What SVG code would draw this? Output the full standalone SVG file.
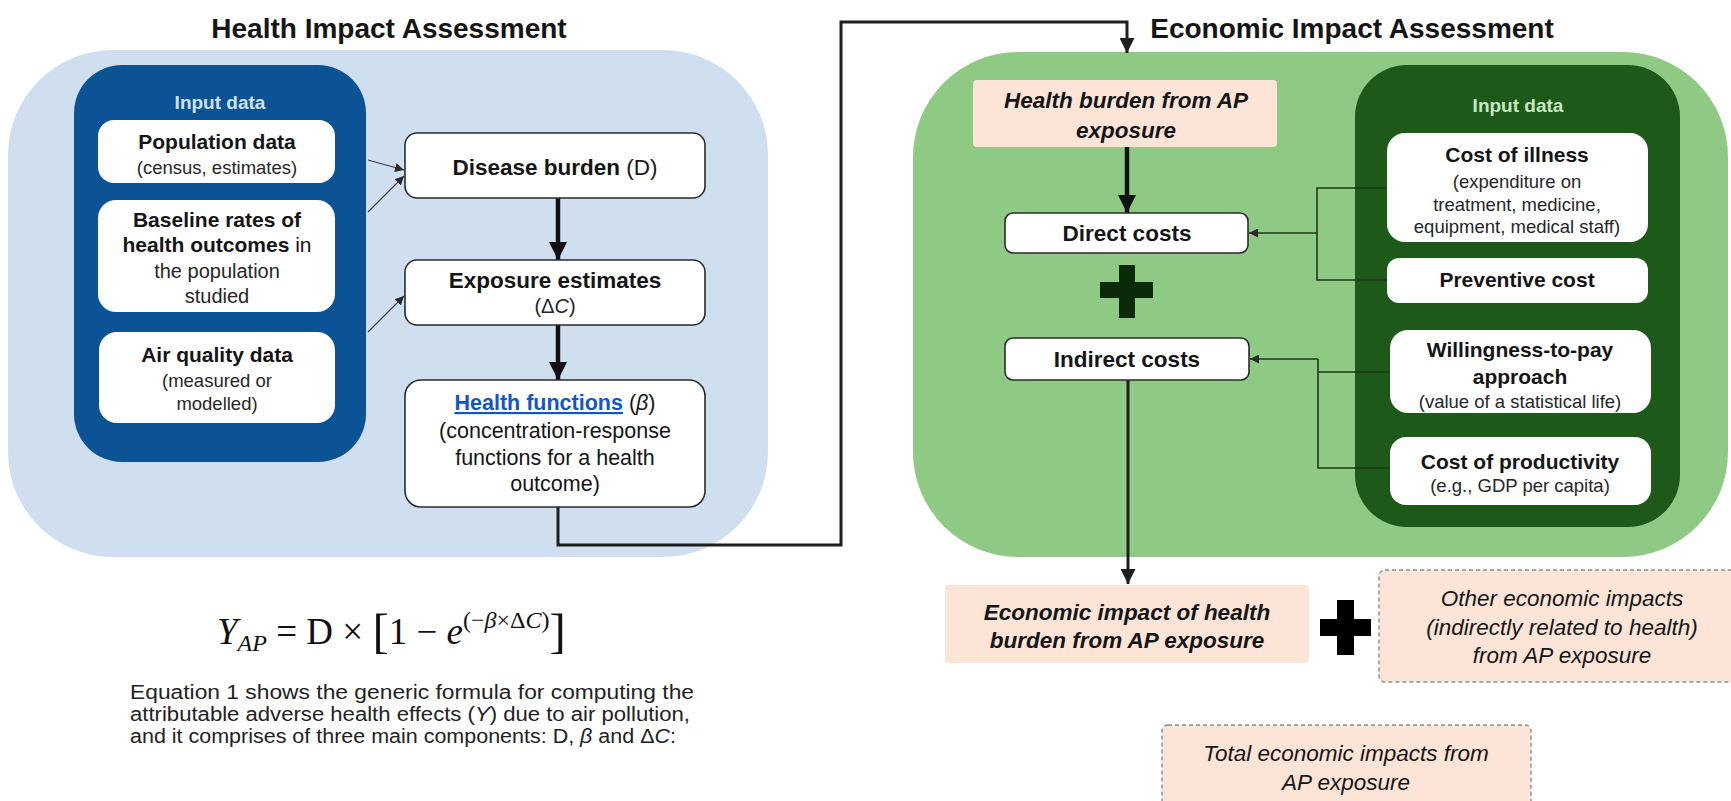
<svg xmlns="http://www.w3.org/2000/svg" width="1731" height="801" viewBox="0 0 1731 801">
<style>
.t{font-family:"Liberation Sans",Arial,sans-serif;text-anchor:middle;fill:#151515}
.b{font-weight:bold}
.s{fill:#262626}
.bi{font-weight:bold;font-style:italic}
.it{font-style:italic}
.box{fill:#ffffff;stroke:#2b2b2b;stroke-width:1.6}
.inbox{fill:#ffffff}
.pink{fill:#fce4d7}
.dash{fill:#fce4d7;stroke:#8c8c8c;stroke-width:1.4;stroke-dasharray:4 3}
.thick{stroke:#111;stroke-width:4.5;fill:none}
.link{stroke:#1e1e1e;stroke-width:3;fill:none}
.thin{stroke:#3a3a3a;stroke-width:1.1;fill:none}
.br{stroke:#1c3a14;stroke-width:1.6;fill:none}
</style>
<defs>
<marker id="ahBig" viewBox="0 0 10 10" refX="10" refY="5" markerUnits="userSpaceOnUse" markerWidth="18" markerHeight="20" orient="auto"><path d="M0,0 L10,5 L0,10 z" fill="#111"/></marker>
<marker id="ahMed" viewBox="0 0 10 10" refX="10" refY="5" markerUnits="userSpaceOnUse" markerWidth="15" markerHeight="15" orient="auto"><path d="M0,0 L10,5 L0,10 z" fill="#1e1e1e"/></marker>
<marker id="ahSm" viewBox="0 0 10 10" refX="10" refY="5" markerUnits="userSpaceOnUse" markerWidth="9" markerHeight="9" orient="auto"><path d="M0,0 L10,5 L0,10 z" fill="#2a2a2a"/></marker>
</defs>

<rect width="1731" height="801" fill="#ffffff"/>

<!-- Panels -->
<g id="health-panel">
<rect x="8" y="50" width="760" height="507" rx="105" fill="#cfdff0"/>
<text class="t b" x="389" y="38" font-size="28">Health Impact Assessment</text>
</g>
<g id="economic-panel">
<rect x="913" y="52" width="815" height="505" rx="105" fill="#8fca84"/>
<text class="t b" x="1352" y="38" font-size="28">Economic Impact Assessment</text>
</g>

<g id="health-input">
<rect x="74" y="65" width="292" height="397" rx="48" fill="#0b5394"/>
<text class="t b" x="220" y="109" font-size="19" style="fill:#cfe2f3">Input data</text>
</g>
<g id="economic-input">
<rect x="1355" y="65" width="325" height="462" rx="52" fill="#1d5918"/>
<text class="t b" x="1518" y="112" font-size="19" style="fill:#c9e6c2">Input data</text>
</g>

<!-- Connectors -->
<g id="connectors">
<line class="thin" x1="368" y1="160" x2="404" y2="170" marker-end="url(#ahSm)"/>
<line class="thin" x1="368" y1="212" x2="404" y2="176" marker-end="url(#ahSm)"/>
<line class="thin" x1="368" y1="332" x2="404" y2="296" marker-end="url(#ahSm)"/>
<line class="thick" x1="558" y1="198" x2="558" y2="260" marker-end="url(#ahBig)"/>
<line class="thick" x1="558" y1="325" x2="558" y2="380" marker-end="url(#ahBig)"/>
<polyline class="link" points="558,507 558,545 841,545 841,22 1127,22 1127,53" marker-end="url(#ahMed)"/>
<line class="thick" x1="1127" y1="147" x2="1127" y2="213" marker-end="url(#ahBig)"/>
<line class="link" x1="1128" y1="380" x2="1128" y2="584" marker-end="url(#ahMed)"/>
<polyline class="br" points="1387,188 1317,188 1317,280 1387,280"/>
<line class="br" x1="1317" y1="233" x2="1249" y2="233" marker-end="url(#ahSm)"/>
<polyline class="br" points="1318,359 1318,468 1390,468"/>
<line class="br" x1="1318" y1="372" x2="1390" y2="372"/>
<line class="br" x1="1318" y1="359" x2="1250" y2="359" marker-end="url(#ahSm)"/>
</g>

<!-- Health input boxes -->
<g id="population-data">
<rect class="inbox" x="98" y="120" width="237" height="63" rx="16"/>
<text class="t b" x="217" y="149" font-size="21">Population data</text>
<text class="t s" x="217" y="174" font-size="18.5">(census, estimates)</text>
</g>
<g id="baseline-rates">
<rect class="inbox" x="98" y="200" width="237" height="112" rx="18"/>
<text class="t b" x="217" y="227" font-size="21">Baseline rates of</text>
<text class="t" x="217" y="252" font-size="21"><tspan font-weight="bold">health outcomes</tspan> in</text>
<text class="t s" x="217" y="278" font-size="20">the population</text>
<text class="t s" x="217" y="303" font-size="20">studied</text>
</g>
<g id="air-quality">
<rect class="inbox" x="99" y="332" width="236" height="91" rx="18"/>
<text class="t b" x="217" y="362" font-size="21">Air quality data</text>
<text class="t s" x="217" y="387" font-size="18.5">(measured or</text>
<text class="t s" x="217" y="410" font-size="18.5">modelled)</text>
</g>

<!-- Health column -->
<g id="disease-burden">
<rect class="box" x="405" y="133" width="300" height="65" rx="12"/>
<text class="t" x="555" y="175" font-size="22.5"><tspan font-weight="bold">Disease burden</tspan> (D)</text>
</g>
<g id="exposure-estimates">
<rect class="box" x="405" y="260" width="300" height="65" rx="12"/>
<text class="t b" x="555" y="288" font-size="22.5">Exposure estimates</text>
<text class="t s" x="555" y="313" font-size="20">(Δ<tspan font-style="italic">C</tspan>)</text>
</g>
<g id="health-functions">
<rect class="box" x="405" y="380" width="300" height="127" rx="16"/>
<text class="t" x="555" y="410" font-size="21.5"><tspan style="fill:#1155cc" font-weight="bold" text-decoration="underline">Health functions</tspan> (<tspan font-style="italic">β</tspan>)</text>
<text class="t" x="555" y="438" font-size="21.5">(concentration-response</text>
<text class="t" x="555" y="465" font-size="21.5">functions for a health</text>
<text class="t" x="555" y="491" font-size="21.5">outcome)</text>
</g>

<!-- Economic column -->
<g id="health-burden">
<rect class="pink" x="973" y="80" width="304" height="67" rx="4"/>
<text class="t bi" x="1126" y="108" font-size="22.5">Health burden from AP</text>
<text class="t bi" x="1126" y="138" font-size="22.5">exposure</text>
</g>
<g id="direct-costs">
<rect class="box" x="1005" y="213" width="243" height="40" rx="8"/>
<text class="t b" x="1127" y="241" font-size="22.5">Direct costs</text>
</g>
<g id="plus-1">
<rect x="1119" y="265" width="16" height="53" fill="#0c2a09"/>
<rect x="1100" y="282" width="53" height="16" fill="#0c2a09"/>
</g>
<g id="indirect-costs">
<rect class="box" x="1005" y="338" width="244" height="42" rx="8"/>
<text class="t b" x="1127" y="367" font-size="22.5">Indirect costs</text>
</g>

<!-- Economic input boxes -->
<g id="cost-of-illness">
<rect class="inbox" x="1387" y="133" width="261" height="109" rx="18"/>
<text class="t b" x="1517" y="162" font-size="21">Cost of illness</text>
<text class="t s" x="1517" y="188" font-size="18.5">(expenditure on</text>
<text class="t s" x="1517" y="211" font-size="18.5">treatment, medicine,</text>
<text class="t s" x="1517" y="233" font-size="18.5">equipment, medical staff)</text>
</g>
<g id="preventive-cost">
<rect class="inbox" x="1387" y="258" width="261" height="45" rx="12"/>
<text class="t b" x="1517" y="287" font-size="21">Preventive cost</text>
</g>
<g id="willingness-to-pay">
<rect class="inbox" x="1390" y="330" width="261" height="83" rx="18"/>
<text class="t b" x="1520" y="357" font-size="21">Willingness-to-pay</text>
<text class="t b" x="1520" y="384" font-size="21">approach</text>
<text class="t s" x="1520" y="408" font-size="18.5">(value of a statistical life)</text>
</g>
<g id="cost-of-productivity">
<rect class="inbox" x="1390" y="437" width="261" height="68" rx="16"/>
<text class="t b" x="1520" y="469" font-size="21">Cost of productivity</text>
<text class="t s" x="1520" y="492" font-size="18.5">(e.g., GDP per capita)</text>
</g>

<!-- Outputs -->
<g id="economic-impact">
<rect class="pink" x="945" y="585" width="364" height="78" rx="4"/>
<text class="t bi" x="1127" y="620" font-size="22.5">Economic impact of health</text>
<text class="t bi" x="1127" y="648" font-size="22.5">burden from AP exposure</text>
</g>
<g id="plus-2">
<rect x="1337" y="600" width="17" height="55" fill="#000"/>
<rect x="1320" y="619" width="51" height="17" fill="#000"/>
</g>
<g id="other-impacts">
<rect class="dash" x="1379" y="570" width="366" height="112" rx="6"/>
<text class="t it" x="1562" y="606" font-size="22.5">Other economic impacts</text>
<text class="t it" x="1562" y="635" font-size="22.5">(indirectly related to health)</text>
<text class="t it" x="1562" y="663" font-size="22.5">from AP exposure</text>
</g>
<g id="total-impacts">
<rect class="dash" x="1162" y="725" width="369" height="90" rx="6"/>
<text class="t it" x="1346" y="761" font-size="22.5">Total economic impacts from</text>
<text class="t it" x="1346" y="790" font-size="22.5">AP exposure</text>
</g>

<!-- Equation and explanation -->
<g id="equation">
<text x="217" y="644" font-family="Liberation Serif,Times New Roman,serif" font-size="37" fill="#111"><tspan font-style="italic">Y</tspan><tspan font-size="24" font-style="italic" dy="7">AP</tspan><tspan dy="-7"> = D × </tspan><tspan font-size="49" dy="3">[</tspan><tspan dy="-3">1 − </tspan><tspan font-style="italic">e</tspan><tspan font-size="24" dy="-16">(−</tspan><tspan font-size="24" font-style="italic">β</tspan><tspan font-size="24">×Δ</tspan><tspan font-size="24" font-style="italic">C</tspan><tspan font-size="24">)</tspan><tspan font-size="49" dy="19">]</tspan></text>
</g>
<g id="explanation" font-family="Liberation Sans,Arial,sans-serif" font-size="20" fill="#222">
<text x="130" y="699" textLength="564" lengthAdjust="spacingAndGlyphs">Equation 1 shows the generic formula for computing the</text>
<text x="130" y="721" textLength="560" lengthAdjust="spacingAndGlyphs">attributable adverse health effects (<tspan font-style="italic">Y</tspan>) due to air pollution,</text>
<text x="130" y="743" textLength="546" lengthAdjust="spacingAndGlyphs">and it comprises of three main components: D, <tspan font-style="italic">β</tspan> and Δ<tspan font-style="italic">C</tspan>:</text>
</g>
</svg>
